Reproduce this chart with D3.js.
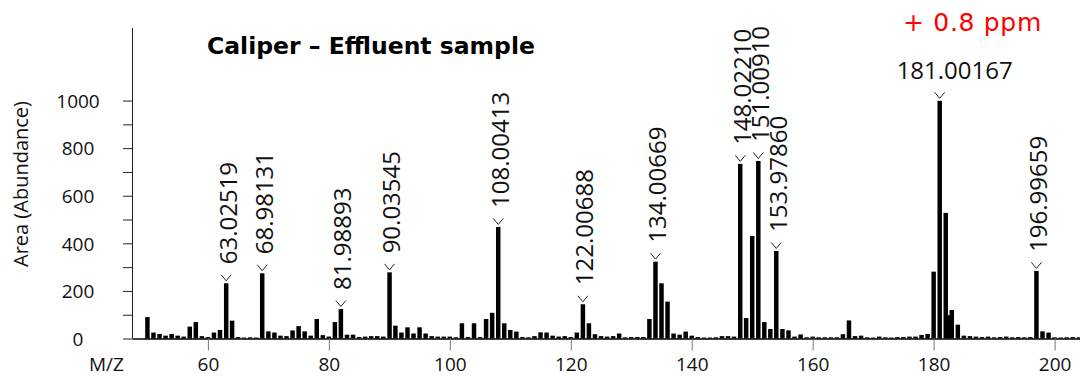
<!DOCTYPE html>
<html>
<head>
<meta charset="utf-8">
<script src="https://cdn.jsdelivr.net/npm/d3@7"></script>
<style>
  html, body { margin: 0; padding: 0; background: #fff; }
  svg { display: block; font-family: "Open Sans", "Noto Sans", sans-serif; }
</style>
</head>
<body>
<div id="wrapper"></div>
<script>
// labelled peaks (m/z, area)
const peakMz = [63.02519, 68.98131, 81.98893, 90.03545, 108.00413, 122.00688,
  134.00669, 148.02210, 151.00910, 153.97860, 181.00167, 196.99659]
const peakArea = [232, 274, 124, 278, 469, 144, 323, 734, 746, 368, 999, 284]
const peakText = ["63.02519", "68.98131", "81.98893", "90.03545", "108.00413", "122.00688",
  "134.00669", "148.02210", "151.00910", "153.97860", "181.00167", "196.99659"]

// the rest of the spectrum (nominal m/z, area)
const minorMz = [50, 51, 52, 53, 54, 55, 56, 57, 58, 59, 60, 61, 62, 64, 65, 66, 67, 68,
  70, 71, 72, 73, 74, 75, 76, 77, 78, 79, 80, 81, 83, 84, 85, 86, 87, 88, 89,
  91, 92, 93, 94, 95, 96, 97, 98, 99, 100, 101, 102, 103, 104, 105, 106, 107,
  109, 110, 111, 112, 113, 114, 115, 116, 117, 118, 119, 120, 121, 123, 124, 125,
  126, 127, 128, 129, 130, 131, 132, 133, 135, 136, 137, 138, 139, 140, 141, 142,
  143, 144, 145, 146, 147, 149, 150, 152, 153, 155, 156, 157, 158, 159, 160, 161,
  162, 163, 164, 165, 166, 167, 168, 169, 170, 171, 172, 173, 174, 175, 176, 177,
  178, 179, 180, 182, 182.4, 183, 184, 185, 186, 187, 188, 189, 190, 191, 192, 193,
  194, 195, 196, 198, 199, 200, 201, 202, 203, 204]
const minorArea = [90, 25, 19, 12, 19, 12, 8, 50, 69, 10, 6, 25, 36, 75, 6, 4, 5, 4,
  30, 25, 12, 10, 34, 52, 30, 12, 82, 14, 8, 69, 16, 16, 6, 8, 10, 10, 8,
  54, 25, 47, 21, 47, 21, 10, 8, 8, 8, 5, 64, 6, 64, 6, 82, 108,
  64, 36, 29, 6, 5, 10, 26, 25, 12, 8, 10, 6, 25, 64, 18, 10,
  8, 10, 21, 5, 6, 6, 6, 82, 232, 155, 21, 16, 29, 12, 6, 4,
  4, 5, 10, 10, 8, 86, 431, 69, 40, 40, 34, 8, 17, 5, 8, 5,
  5, 5, 5, 18, 76, 10, 12, 5, 4, 8, 5, 4, 6, 6, 8, 8,
  15, 19, 281, 528, 98, 120, 58, 12, 10, 8, 6, 8, 5, 6, 8, 5,
  6, 5, 6, 30, 25, 5, 4, 5, 6, 5]

const xTicks = [60, 80, 100, 120, 140, 160, 180, 200]
const yTicks = [0, 100, 200, 300, 400, 500, 600, 700, 800, 900, 1000]

const titleText = "Caliper \u2013 Effluent sample"
const ppmText = "+ 0.8 ppm"

drawSpectrum()

function drawSpectrum() {

  // 1. Data
  const peaks = peakMz.map((mz, i) => ({ mz, area: peakArea[i], label: peakText[i] }))
  const minor = minorMz.map((mz, i) => ({ mz, area: minorArea[i] }))
  const allBars = minor.concat(peaks)
  const mzAccessor = d => d.mz
  const areaAccessor = d => d.area

  // 2. Dimensions
  let dimensions = {
    width: 1080,
    height: 376,
    margin: { top: 28, right: 0, bottom: 37.5, left: 132 },
    boundedWidth: 0,
    boundedHeight: 0
  }
  dimensions.boundedWidth = dimensions.width - dimensions.margin.left - dimensions.margin.right
  dimensions.boundedHeight = dimensions.height - dimensions.margin.top - dimensions.margin.bottom

  // 3. Canvas
  const wrapper = d3.select("#wrapper")
    .append("svg")
      .attr("width", dimensions.width)
      .attr("height", dimensions.height)

  const bounds = wrapper.append("g")
      .attr("transform", `translate(${dimensions.margin.left},${dimensions.margin.top})`)

  // 4. Scales
  const xScale = d3.scaleLinear()
    .domain([47.45, 204.2])
    .range([0, dimensions.boundedWidth])

  const yScale = d3.scaleLinear()
    .domain([0, 1305])
    .range([dimensions.boundedHeight, 0])

  const barWidth = xScale(0.74) - xScale(0)

  // 5. Bars
  bounds.append("g").selectAll("rect")
    .data(allBars)
    .join("rect")
      .attr("x", d => xScale(mzAccessor(d)) - barWidth / 2)
      .attr("y", d => yScale(areaAccessor(d)))
      .attr("width", barWidth)
      .attr("height", d => dimensions.boundedHeight - yScale(areaAccessor(d)))
      .attr("fill", "#000")

  // 6. Peak labels
  const chevron = d => {
    const x = xScale(d.mz), y = yScale(d.area)
    return `M${x - 5},${y - 8.5}L${x},${y - 2.5}L${x + 5},${y - 8.5}`
  }
  bounds.append("g").selectAll("path")
    .data(peaks)
    .join("path")
      .attr("d", chevron)
      .attr("fill", "none")
      .attr("stroke", "#222")
      .attr("stroke-width", 1)

  const topPeak = peaks.reduce((a, b) => b.area > a.area ? b : a)

  bounds.append("g").selectAll("text")
    .data(peaks.filter(d => d !== topPeak))
    .join("text")
      .attr("transform", d => `translate(${xScale(d.mz) + 10.5},${yScale(d.area) - 19}) rotate(-90)`)
      .attr("text-anchor", "start")
      .style("font-size", "24px")
      .attr("fill", "#111")
      .text(d => d.label)

  bounds.append("text")
      .attr("x", xScale(topPeak.mz) + 15)
      .attr("y", yScale(topPeak.area) - 22)
      .attr("text-anchor", "middle")
      .style("font-size", "24px")
      .attr("fill", "#111")
      .text(topPeak.label)

  // 7. Axes
  const yAxisGenerator = d3.axisLeft(yScale)
    .tickValues(yTicks)
    .tickFormat(d => d % 200 === 0 ? d : "")
    .tickSize(9)
    .tickSizeOuter(0)

  const yAxis = bounds.append("g").call(yAxisGenerator)
  yAxis.select(".domain")
      .attr("d", `M0.5,${dimensions.boundedHeight}V0`)
      .attr("stroke", "#222")
  yAxis.selectAll(".tick line").attr("stroke", "#222")
  yAxis.selectAll(".tick text")
      .attr("x", -54)
      .attr("text-anchor", "middle")
      .attr("dy", "0.36em")
      .style("font-size", "19px")
      .style("font-family", "'Open Sans', sans-serif")
      .attr("fill", "#111")

  const xAxisGenerator = d3.axisBottom(xScale)
    .tickValues(xTicks)
    .tickSize(12)
    .tickSizeOuter(0)

  const xAxis = bounds.append("g")
      .attr("transform", `translate(0,${dimensions.boundedHeight})`)
      .call(xAxisGenerator)
  xAxis.select(".domain")
      .attr("stroke", "#000")
      .attr("stroke-width", 1.6)
  xAxis.selectAll(".tick line").attr("stroke", "#777")
  xAxis.selectAll(".tick text")
      .attr("y", 32.5)
      .attr("dy", 0)
      .style("font-size", "19px")
      .style("font-family", "'Open Sans', sans-serif")
      .attr("fill", "#111")

  // 8. Peripherals
  wrapper.append("text")
      .attr("x", 89)
      .attr("y", 371)
      .style("font-size", "19px")
      .attr("fill", "#111")
      .text("M/Z")

  wrapper.append("text")
      .attr("transform", "translate(28,184) rotate(-90)")
      .attr("text-anchor", "middle")
      .style("font-size", "20px")
      .attr("fill", "#111")
      .text("Area (Abundance)")

  wrapper.append("text")
      .attr("x", 207)
      .attr("y", 54)
      .style("font-family", "'DejaVu Sans', sans-serif")
      .style("font-size", "23.5px")
      .style("font-weight", "bold")
      .attr("fill", "#000")
      .text(titleText)

  wrapper.append("text")
      .attr("x", 903)
      .attr("y", 31)
      .style("font-family", "'DejaVu Sans', sans-serif")
      .style("font-size", "25px")
      .style("letter-spacing", "0.7px")
      .attr("fill", "#f00")
      .text(ppmText)
}
</script>
</body>
</html>
